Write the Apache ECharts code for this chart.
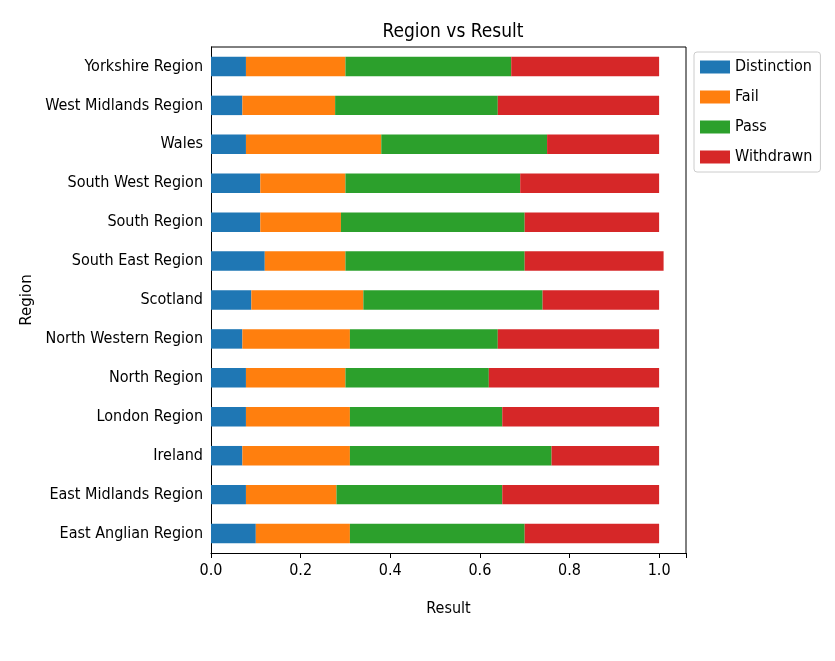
<!DOCTYPE html>
<html>
<head>
<meta charset="utf-8">
<script src="https://cdn.jsdelivr.net/npm/echarts@6/dist/echarts.min.js"></script>
<style>html,body{margin:0;padding:0;background:#fff}#chart{width:835px;height:661px}</style>
</head>
<body>
<div id="chart"></div>
<script>
var regions = ['East Anglian Region', 'East Midlands Region', 'Ireland', 'London Region', 'North Region',
    'North Western Region', 'Scotland', 'South East Region', 'South Region', 'South West Region',
    'Wales', 'West Midlands Region', 'Yorkshire Region'];
var distinction = [0.10, 0.078, 0.07, 0.078, 0.078, 0.07, 0.09, 0.12, 0.11, 0.11, 0.078, 0.07, 0.078];
var fail = [0.21, 0.202, 0.24, 0.232, 0.222, 0.24, 0.25, 0.18, 0.18, 0.19, 0.302, 0.207, 0.222];
var pass = [0.39, 0.37, 0.45, 0.34, 0.32, 0.33, 0.40, 0.40, 0.41, 0.39, 0.37, 0.363, 0.37];
var withdrawn = [0.30, 0.35, 0.24, 0.35, 0.38, 0.36, 0.26, 0.31, 0.30, 0.31, 0.25, 0.36, 0.33];

var font = "'DejaVu Sans Condensed', 'Liberation Sans Narrow', 'DejaVu Sans', sans-serif";
var colors = ['#1f77b4', '#ff7f0e', '#2ca02c', '#d62728'];
var names = ['Distinction', 'Fail', 'Pass', 'Withdrawn'];
var values = [distinction, fail, pass, withdrawn];

var myChart = echarts.init(document.getElementById('chart'));
var series = names.map(function (n, i) {
    return {
        name: n, type: 'bar', stack: 'all', data: values[i], barWidth: '50%',
        itemStyle: { color: colors[i] }, silent: true
    };
});
myChart.setOption({
    animation: false,
    textStyle: { fontFamily: font },
    title: {
        text: 'Region vs Result', left: 448, top: 18, textAlign: 'center',
        textStyle: { fontFamily: font, fontWeight: 'normal', fontSize: 19, color: '#000' }
    },
    legend: {
        orient: 'vertical', left: 694, top: 52, itemGap: 14, icon: 'rect',
        itemWidth: 30, itemHeight: 13, padding: [7, 8, 7, 6],
        borderColor: '#ccc', borderWidth: 1, borderRadius: 3,
        textStyle: { fontFamily: font, fontSize: 16, color: '#000' },
        data: names
    },
    grid: { left: 211, right: 149, top: 47, bottom: 108, containLabel: false },
    xAxis: {
        type: 'value', min: 0, max: 1.06, interval: 0.2,
        name: 'Result', nameLocation: 'middle', nameGap: 48,
        nameTextStyle: { fontFamily: font, fontSize: 16, color: '#000' },
        axisLine: { show: true, lineStyle: { color: '#000' } },
        axisTick: { show: true, length: 5, lineStyle: { color: '#000' } },
        splitLine: { show: false },
        axisLabel: {
            fontSize: 16, color: '#000', fontFamily: font, margin: 10,
            formatter: function (v) { return Math.abs(v * 5 - Math.round(v * 5)) < 1e-6 ? v.toFixed(1) : ''; }
        }
    },
    yAxis: {
        type: 'category', data: regions,
        name: 'Region', nameLocation: 'middle', nameGap: 175, nameRotate: 90,
        nameTextStyle: { fontFamily: 'DejaVu Sans', fontSize: 15, color: '#000' },
        axisLine: { lineStyle: { color: '#000' } },
        axisTick: { length: 5, alignWithLabel: true, lineStyle: { color: '#000' } },
        axisLabel: { fontSize: 16, color: '#000', fontFamily: font, margin: 8 }
    },
    series: series,
    graphic: [
        { type: 'line', shape: { x1: 211, y1: 47, x2: 686, y2: 47 }, style: { stroke: '#000', lineWidth: 1 } },
        { type: 'line', shape: { x1: 686, y1: 47, x2: 686, y2: 553 }, style: { stroke: '#000', lineWidth: 1 } }
    ]
});
</script>
</body>
</html>
